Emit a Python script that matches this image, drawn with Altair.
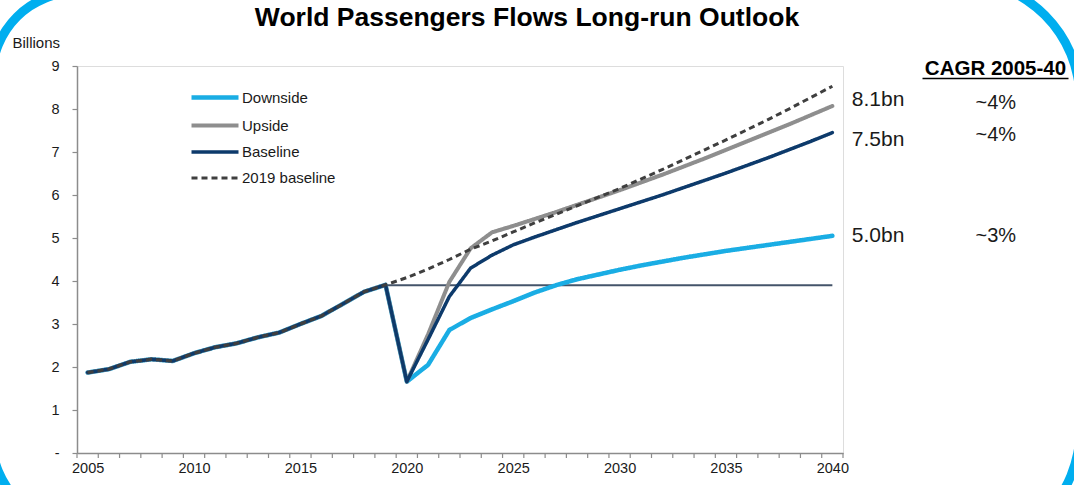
import altair as alt
import pandas as pd

# ---------------- data ----------------
hist_years = list(range(2005, 2020))
history = [1.87, 1.95, 2.12, 2.18, 2.14, 2.32, 2.46, 2.55, 2.69, 2.80,
           3.00, 3.19, 3.47, 3.75, 3.91]

fc_years = list(range(2020, 2041))
downside = [1.66, 2.05, 2.86, 3.14, 3.34, 3.53, 3.73, 3.90, 4.04, 4.15, 4.26,
            4.36, 4.45, 4.54, 4.62, 4.70, 4.77, 4.84, 4.91, 4.98, 5.05]
upside = [1.66, 2.76, 3.98, 4.76, 5.13, 5.28, 5.44, 5.60, 5.77, 5.94, 6.11,
          6.29, 6.47, 6.66, 6.85, 7.05, 7.25, 7.45, 7.65, 7.86, 8.07]
baseline = [1.66, 2.64, 3.64, 4.30, 4.60, 4.84, 5.02, 5.19, 5.36, 5.52, 5.68,
            5.84, 6.00, 6.17, 6.34, 6.51, 6.69, 6.87, 7.06, 7.25, 7.45]
baseline_2019 = [4.08, 4.28, 4.50, 4.74, 4.93, 5.14, 5.35, 5.55, 5.75, 5.95, 6.15,
                 6.37, 6.59, 6.82, 7.05, 7.28, 7.52, 7.76, 8.01, 8.27, 8.53]

pre_covid_level = 3.9
pre_covid_span = [2019, 2040]

series_names = ["Downside", "Upside", "Baseline", "2019 baseline"]
end_labels = ["8.1bn", "7.5bn", "5.0bn"]
cagr_labels = ["~4%", "~4%", "~3%"]
cagr_header = "CAGR 2005-40"

x_label_values = list(range(2005, 2041, 5))
x_tick_values = [y - 0.5 for y in range(2005, 2042)]
y_tick_values = list(range(0, 10))

# ---------------- styles ----------------
series_colors = ["#1AADE4", "#8E8E8E", "#0D3A6B", "#3F3F3F"]
series_widths = [4.5, 3, 5, 2.5]
series_dash = [[1, 0], [1, 0], [1, 0], [6, 4]]
FONT = "Liberation Sans"
FRAME_BLUE = "#00AEEF"
AXIS_GREY = "#8C8C8C"

rows = []
for name, fc in zip(series_names, [downside, upside, baseline, baseline_2019]):
    for yr, v in zip(hist_years, history):
        rows.append({"series": name, "year": yr, "value": v})
    for yr, v in zip(fc_years, fc):
        rows.append({"series": name, "year": yr, "value": v})
df = pd.DataFrame(rows)

hline_df = pd.DataFrame({"x": [pre_covid_span[0]], "x2": [pre_covid_span[1]], "y": [pre_covid_level]})
ticks_df = pd.DataFrame({"t": x_tick_values})
one = pd.DataFrame({"a": [0]})

xscale = alt.Scale(domain=[2004.5, 2040.5], nice=False, zero=False)
yscale = alt.Scale(domain=[0, 9], nice=False)

xaxis = alt.Axis(
    values=x_label_values, format="d", title=None, grid=False, ticks=False,
    labelOverlap=False, labelFlush=False, labelPadding=8, labelFontSize=14.5,
    labelColor="#1a1a1a", domainColor=AXIS_GREY, domainWidth=1.5,
)
yaxis = alt.Axis(
    values=y_tick_values,
    labelExpr="datum.value == 0 ? '-' : datum.label",
    title="Billions", titleAngle=0, titleX=-65, titleY=-19, titleAlign="left",
    titleBaseline="alphabetic", titleFontWeight="normal", titleFontSize=15,
    titleColor="#1a1a1a", grid=False, tickSize=5, labelPadding=13,
    labelFontSize=14.5, labelColor="#1a1a1a", labelOverlap=False,
    domainColor=AXIS_GREY, tickColor=AXIS_GREY, domainWidth=1.5, tickWidth=1.2,
)

legend = alt.Legend(
    title=None, orient="none", legendX=125.5, legendY=19, symbolType="M-2.35,0H2.35",
    symbolSize=400, rowPadding=6.5, labelFontSize=15, labelOffset=14.5,
    labelColor="#1a1a1a", padding=0, labelFont=FONT,
)


def series_layer(name):
    dashed = name == "2019 baseline"
    return alt.Chart(df).transform_filter(alt.datum.series == name).mark_line(
        strokeCap="butt" if dashed else "round", strokeJoin="round"
    ).encode(
        x=alt.X("year:Q", scale=xscale, axis=xaxis),
        y=alt.Y("value:Q", scale=yscale, axis=yaxis),
        color=alt.Color("series:N", scale=alt.Scale(domain=series_names, range=series_colors), legend=legend),
        strokeWidth=alt.StrokeWidth("series:N", scale=alt.Scale(domain=series_names, range=series_widths), legend=legend),
        strokeDash=alt.StrokeDash("series:N", scale=alt.Scale(domain=series_names, range=series_dash), legend=legend),
    )


hline = alt.Chart(hline_df).mark_rule(color="#44546A", strokeWidth=2).encode(
    x=alt.X("x:Q", scale=xscale, axis=xaxis), x2="x2:Q", y=alt.Y("y:Q", scale=yscale, axis=yaxis)
)

x_ticks = alt.Chart(ticks_df).mark_rule(color=AXIS_GREY, strokeWidth=1.2).encode(
    x=alt.X("t:Q", scale=xscale, axis=xaxis), y=alt.value(387), y2=alt.value(392)
)


def end_text(label, value, dy):
    return alt.Chart(one).mark_text(
        align="left", baseline="middle", dx=19.5, dy=dy, fontSize=21, font=FONT, color="#1a1a1a"
    ).encode(x=alt.datum(2040), y=alt.datum(value), text=alt.value(label))


def cagr_text(label, value, dy):
    return alt.Chart(one).mark_text(
        align="center", baseline="middle", dx=163.5, dy=dy, fontSize=20, font=FONT, color="#1a1a1a"
    ).encode(x=alt.datum(2040), y=alt.datum(value), text=alt.value(label))


header = alt.Chart(one).mark_text(
    align="center", baseline="alphabetic", fontSize=20.5, fontWeight="bold", font=FONT, color="#000000"
).encode(x=alt.value(918.5), y=alt.value(9), text=alt.value(cagr_header))
underline = alt.Chart(one).mark_rule(color="#000000", strokeWidth=1.6).encode(
    x=alt.value(845.5), x2=alt.value(991.5), y=alt.value(12.5)
)


def frame_arc(cx, cy, r, t0, t1):
    return alt.Chart(one).mark_arc(
        radius=r + 4.5, radius2=r - 4.5, theta=t0, theta2=t1, color=FRAME_BLUE
    ).encode(x=alt.value(cx), y=alt.value(cy))


arcs = [
    frame_arc(0, 11, 85, 4.712, 6.2832),
    frame_arc(883, 34, 120, 0.0, 1.5708),
    frame_arc(883, 364, 120, 1.5708, 3.1416),
    frame_arc(0, 373, 85, 3.1416, 4.712),
]

layers = arcs + [hline, x_ticks] + [series_layer(n) for n in series_names] + [
    end_text(end_labels[0], upside[-1], -5.5),
    end_text(end_labels[1], baseline[-1], 7),
    end_text(end_labels[2], downside[-1], 0),
    cagr_text(cagr_labels[0], upside[-1], -3),
    cagr_text(cagr_labels[1], baseline[-1], 2),
    cagr_text(cagr_labels[2], downside[-1], 0),
    header, underline,
]

chart = alt.layer(*layers).properties(
    width=766, height=387,
    autosize=alt.AutoSizeParams(type="none"),
    padding={"left": 77, "top": 66, "right": 231, "bottom": 32},
    title=alt.TitleParams(
        "World Passengers Flows Long-run Outlook", fontSize=26.5, fontWeight="bold",
        font=FONT, color="#000000", anchor="middle", dx=67, offset=0,
        baseline="alphabetic", dy=77,
    ),
).configure_view(stroke=None).configure(font=FONT)

chart.save("out.html", embed_options={"renderer": "svg", "actions": False})
